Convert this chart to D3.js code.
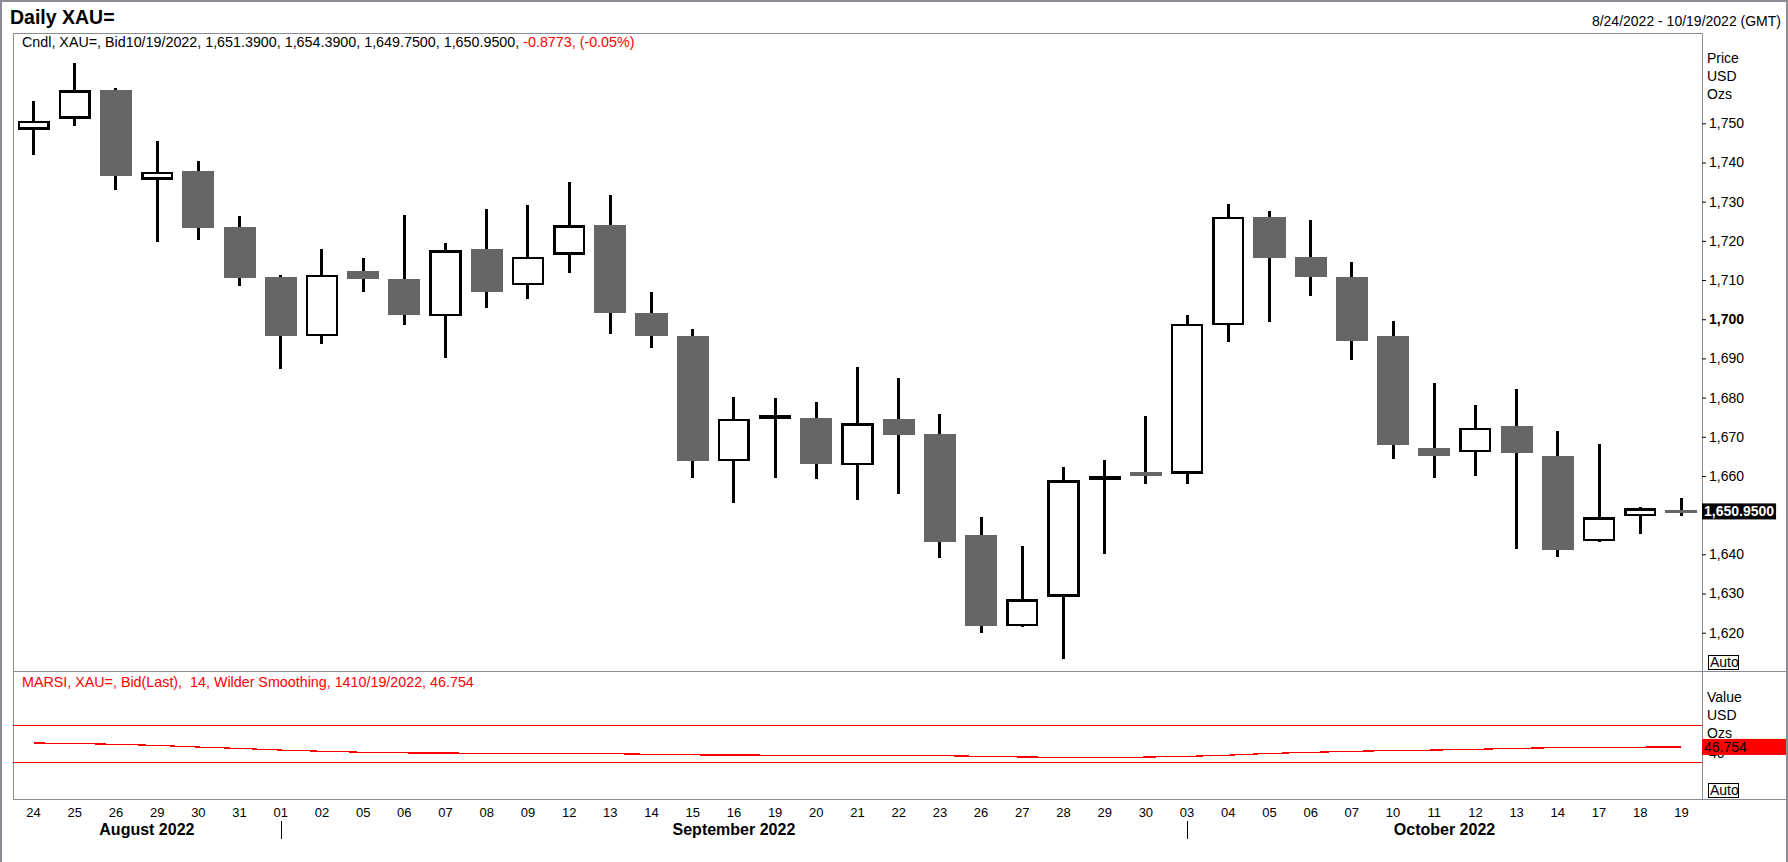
<!DOCTYPE html>
<html>
<head>
<meta charset="utf-8">
<script src="https://cdn.jsdelivr.net/npm/d3@7"></script>
<style>
  body { margin: 0; background: #fff; }
  svg { display: block; font-family: "Liberation Sans", Arial, sans-serif; }
  text { white-space: pre; }
</style>
</head>
<body>
<svg id="chart" width="1788" height="862"></svg>
<script>
// daily candles, 8/24/2022 - 10/19/2022
const dayLabels = ['24','25','26','29','30','31','01','02','05','06','07','08','09','12','13','14','15','16','19','20','21','22','23','26','27','28','29','30','03','04','05','06','07','10','11','12','13','14','17','18','19']
const opens  = [1748.3,1751.2,1758.5,1735.6,1737.8,1723.5,1710.7,1695.6,1712.3,1710.2,1700.7,1717.9,1708.7,1716.4,1724.1,1701.7,1695.6,1663.8,1674.6,1674.9,1662.7,1674.6,1670.8,1644.9,1621.6,1629.2,1658.9,1660.9,1660.6,1698.5,1726.2,1716.0,1710.7,1695.6,1667.1,1666.0,1672.8,1665.2,1643.3,1649.7,1651.39]
const highs  = [1755.6,1765.4,1759.0,1745.5,1740.4,1726.4,1711.2,1717.8,1715.6,1726.6,1719.4,1728.1,1729.1,1735.0,1731.7,1707.0,1697.6,1680.1,1679.8,1679.0,1687.7,1685.1,1675.8,1649.6,1642.0,1662.4,1664.1,1675.2,1701.1,1729.4,1727.6,1725.3,1714.5,1699.6,1683.7,1678.1,1682.2,1671.5,1668.2,1652.0,1654.39]
const lows   = [1741.8,1749.2,1733.0,1719.6,1720.2,1708.4,1687.4,1693.8,1706.9,1698.4,1690.0,1702.8,1705.2,1711.7,1696.2,1692.7,1659.5,1653.0,1659.5,1659.2,1653.9,1655.4,1639.1,1619.9,1621.4,1613.4,1640.0,1658.0,1658.0,1694.1,1699.4,1706.0,1689.5,1664.4,1659.4,1660.1,1641.4,1639.4,1643.2,1645.1,1649.75]
const closes = [1750.6,1758.4,1736.6,1737.6,1723.4,1710.6,1695.8,1711.3,1710.2,1701.0,1717.6,1707.0,1716.0,1724.0,1701.7,1695.6,1663.8,1674.6,1675.5,1663.0,1673.4,1670.5,1643.2,1621.6,1628.6,1658.9,1660.0,1660.0,1698.8,1726.2,1715.7,1710.7,1694.4,1667.8,1665.2,1672.3,1665.8,1641.1,1649.5,1651.7,1650.95]

// MARSI (14, Wilder smoothing)
const rsiValues = [51.1,50.5,49.6,48.4,46.6,45.1,43.3,42.0,40.9,40.2,40.0,39.9,39.7,39.5,39.3,38.7,38.0,37.9,37.7,37.6,37.4,37.3,37.1,36.5,35.7,35.4,35.3,35.6,36.4,37.7,39.6,40.8,41.9,42.8,43.3,44.1,45.2,45.9,46.2,46.5,46.754]
const rsiBands = [70, 30]

const monthNames = ['August 2022', 'September 2022', 'October 2022']
const monthStart = [0, 6, 28]

// 1,650 and 50 sit under the last-value tags, so they are not listed
const priceTicks = [1620,1630,1640,1660,1670,1680,1690,1700,1710,1720,1730,1740,1750]
const rsiTicks = [40]

const lastChange = '-0.8773, (-0.05%)'

const plotLeft = 13, plotRight = 1702, frameRight = 1786
const priceTop = 33, priceBottom = 671, rsiBottom = 799
const frameColor = '#8c8c99'
const red = '#ff0000'
const font = '"Liberation Sans", Arial, sans-serif'

const svg = d3.select('#chart')

const x = d3.scaleBand().domain(d3.range(dayLabels.length)).range([plotLeft, plotRight])
const cx = i => x(i) + x.bandwidth() / 2
const y = d3.scaleLinear().domain([1620, 1750]).range([632.7, 123.3])
const yR = d3.scaleLinear().domain([30, 70]).range([762.2, 725.7])

/* outer border and panel frames */
const frame = svg.append('g').attr('stroke', frameColor).attr('fill', 'none').attr('shape-rendering', 'crispEdges')
frame.append('rect').attr('x', 0.5).attr('y', 0.5).attr('width', frameRight).attr('height', 900).attr('stroke-width', 2)
frame.append('line').attr('x1', plotLeft).attr('x2', plotRight).attr('y1', priceTop).attr('y2', priceTop)
frame.append('line').attr('x1', plotLeft).attr('x2', plotLeft).attr('y1', priceTop).attr('y2', rsiBottom)
frame.append('line').attr('x1', plotRight).attr('x2', plotRight).attr('y1', priceTop).attr('y2', rsiBottom)
frame.append('line').attr('x1', plotLeft).attr('x2', frameRight).attr('y1', priceBottom).attr('y2', priceBottom)
frame.append('line').attr('x1', plotLeft).attr('x2', frameRight).attr('y1', rsiBottom).attr('y2', rsiBottom)

/* titles */
svg.append('text').attr('x', 10).attr('y', 24).attr('font-size', 19.5).attr('font-weight', 'bold').text('Daily XAU=')
svg.append('text').attr('x', 1781).attr('y', 26).attr('font-size', 14).attr('text-anchor', 'end').text('8/24/2022 - 10/19/2022 (GMT)')

const n = dayLabels.length - 1
const f4 = d3.format(',.4f')
const head = svg.append('text').attr('x', 22).attr('y', 47).attr('font-size', 14.3)
head.append('tspan').text(`Cndl, XAU=, Bid10/19/2022, ${f4(opens[n])}, ${f4(highs[n])}, ${f4(lows[n])}, ${f4(closes[n])}, `)
head.append('tspan').attr('fill', red).text(lastChange)

/* candles */
const candles = dayLabels.map((d, i) => ({ i, o: opens[i], h: highs[i], l: lows[i], c: closes[i] }))
const bw = x.bandwidth() * 0.78
const cg = svg.append('g').attr('shape-rendering', 'crispEdges')

cg.selectAll('line.wick')
  .data(candles)
  .join('line')
  .attr('class', 'wick')
  .attr('x1', d => cx(d.i))
  .attr('x2', d => cx(d.i))
  .attr('y1', d => y(d.h))
  .attr('y2', d => y(d.l))
  .attr('stroke', '#000')
  .attr('stroke-width', 3)

cg.selectAll('rect.up')
  .data(candles.filter(d => d.c >= d.o))
  .join('rect')
  .attr('class', 'up')
  .attr('x', d => cx(d.i) - bw / 2 + 1.25)
  .attr('y', d => y(d.c) + 1.25)
  .attr('width', bw - 2.5)
  .attr('height', d => Math.max(0.5, y(d.o) - y(d.c) - 2.5))
  .attr('fill', '#fff')
  .attr('stroke', '#000')
  .attr('stroke-width', 2.5)

cg.selectAll('rect.down')
  .data(candles.filter(d => d.c < d.o))
  .join('rect')
  .attr('class', 'down')
  .attr('x', d => cx(d.i) - bw / 2)
  .attr('y', d => y(d.o))
  .attr('width', bw)
  .attr('height', d => Math.max(3, y(d.c) - y(d.o)))
  .attr('fill', '#666666')

/* price axis */
const yAxis = d3.axisRight(y).tickValues(priceTicks).tickSize(4).tickPadding(3).tickFormat(d3.format(','))
const ya = svg.append('g')
  .attr('transform', `translate(${plotRight},0)`)
  .call(yAxis)
ya.select('.domain').remove()
ya.attr('font-size', 14).attr('font-family', font).attr('color', '#000')
ya.selectAll('text').filter(d => d === 1700).attr('font-weight', 'bold')

const unitText = (lines, y0) => lines.forEach((t, k) =>
  svg.append('text').attr('x', 1707).attr('y', y0 + k * 18).attr('font-size', 14).text(t))
unitText(['Price', 'USD', 'Ozs'], 63)

const autoBox = yTop => {
  svg.append('rect').attr('x', 1708.5).attr('y', yTop + 0.5).attr('width', 30).attr('height', 14)
    .attr('fill', '#fff').attr('stroke', '#000').attr('shape-rendering', 'crispEdges')
  svg.append('text').attr('x', 1710).attr('y', yTop + 12).attr('font-size', 14).text('Auto')
}
autoBox(655)

// last price tag
const lp = y(closes[n])
const lpBox = svg.append('rect').attr('x', plotRight).attr('y', lp - 8).attr('height', 16).attr('fill', '#000')
const lpText = svg.append('text').attr('x', plotRight + 2).attr('y', lp + 5).attr('font-size', 14).attr('font-weight', 'bold')
  .attr('fill', '#fff').text(f4(closes[n]))
lpBox.attr('width', lpText.node().getComputedTextLength() + 4)

/* RSI panel */
svg.append('text').attr('x', 22).attr('y', 687).attr('font-size', 14.3).attr('fill', red)
  .text(`MARSI, XAU=, Bid(Last),  14, Wilder Smoothing, 1410/19/2022, ${rsiValues[n]}`)

svg.append('g').attr('shape-rendering', 'crispEdges')
  .selectAll('line')
  .data(rsiBands)
  .join('line')
  .attr('x1', plotLeft)
  .attr('x2', plotRight)
  .attr('y1', d => yR(d))
  .attr('y2', d => yR(d))
  .attr('stroke', red)
  .attr('stroke-width', 1)

svg.append('path')
  .datum(rsiValues)
  .attr('d', d3.line().x((d, i) => cx(i)).y(d => yR(d)))
  .attr('fill', 'none')
  .attr('stroke', red)
  .attr('stroke-width', 1.2)
  .attr('shape-rendering', 'crispEdges')

const ra = svg.append('g')
  .attr('transform', `translate(${plotRight},0)`)
  .call(d3.axisRight(yR).tickValues(rsiTicks).tickSize(4).tickPadding(3))
ra.select('.domain').remove()
ra.attr('font-size', 14).attr('font-family', font).attr('color', '#000')

unitText(['Value', 'USD', 'Ozs'], 702)

const lr = yR(rsiValues[n])
svg.append('rect').attr('x', plotRight).attr('y', lr - 8).attr('width', frameRight - plotRight).attr('height', 16).attr('fill', red)
svg.append('text').attr('x', plotRight + 2).attr('y', lr + 5).attr('font-size', 14).attr('fill', '#000').text(rsiValues[n])

autoBox(783)

/* date axis */
const xa = svg.append('g')
  .attr('transform', `translate(0,${rsiBottom})`)
  .call(d3.axisBottom(x).tickFormat(i => dayLabels[i]).tickSize(0).tickPadding(9))
xa.select('.domain').remove()
xa.attr('font-size', 13).attr('font-family', font).attr('color', '#000')

svg.append('g')
  .selectAll('line')
  .data(monthStart.slice(1))
  .join('line')
  .attr('x1', d => Math.round(cx(d)) + 0.5)
  .attr('x2', d => Math.round(cx(d)) + 0.5)
  .attr('y1', 821)
  .attr('y2', 839)
  .attr('stroke', '#000')

svg.append('g')
  .selectAll('text')
  .data(monthNames)
  .join('text')
  .attr('x', (d, k) => {
    const a = k === 0 ? plotLeft : cx(monthStart[k])
    const b = k === monthNames.length - 1 ? plotRight : cx(monthStart[k + 1])
    return (a + b) / 2
  })
  .attr('y', 835)
  .attr('text-anchor', 'middle')
  .attr('font-size', 16)
  .attr('font-weight', 'bold')
  .text(d => d)
</script>
</body>
</html>
